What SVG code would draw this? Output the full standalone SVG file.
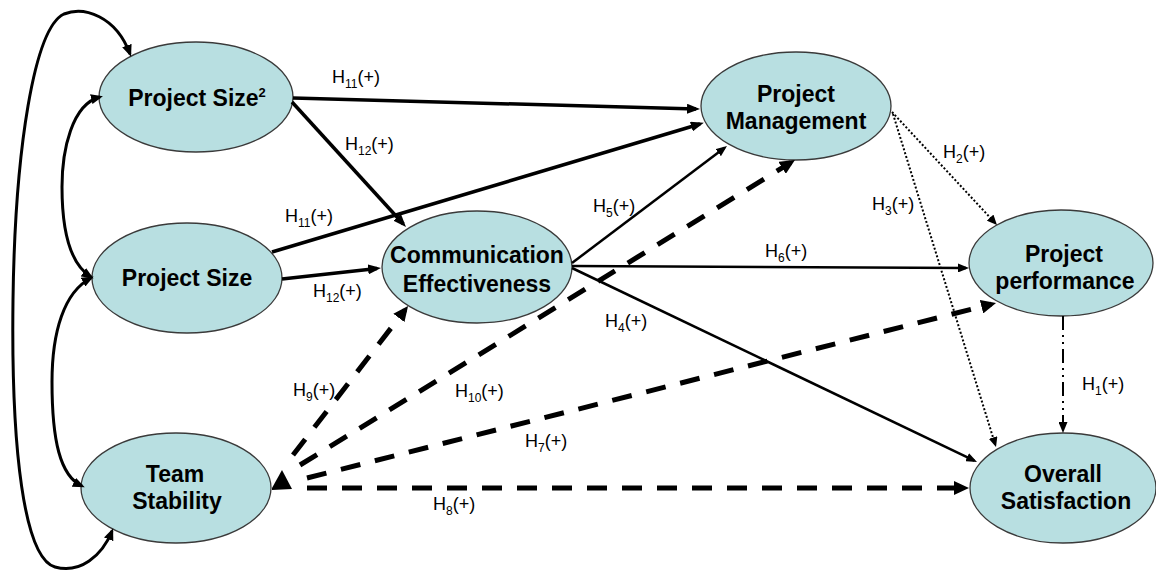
<svg xmlns="http://www.w3.org/2000/svg" width="1156" height="574" viewBox="0 0 1156 574">
<style>
.node ellipse{fill:#b8dfe1;stroke:#3a3a3a;stroke-width:1.3}
.nt{font-family:"Liberation Sans",Arial,sans-serif;font-weight:bold;font-size:23px;fill:#000;text-anchor:middle}
.lb{font-family:"Liberation Sans",Arial,sans-serif;font-size:18px;fill:#000}
.sub{font-size:12px}
.c{fill:none;stroke:#000}
.thick{stroke-width:3.5;marker-end:url(#aMed)}
.thin{stroke-width:2.5;marker-end:url(#aSm)}
.dash{stroke-width:5;stroke-dasharray:20 15;marker-end:url(#aBig)}
.dot{stroke-width:2;stroke-dasharray:2 2;marker-end:url(#aDot)}
.curve{stroke-width:3;marker-start:url(#aCurve);marker-end:url(#aCurve)}
</style>
<defs>
<marker id="aBig" markerUnits="userSpaceOnUse" markerWidth="15" markerHeight="14" refX="10" refY="7" orient="auto"><path d="M0,0 L15,7 L0,14 z" fill="#000"/></marker>
<marker id="aMed" markerUnits="userSpaceOnUse" markerWidth="13" markerHeight="10" refX="9" refY="5" orient="auto"><path d="M0,0 L13,5 L0,10 z" fill="#000"/></marker>
<marker id="aSm" markerUnits="userSpaceOnUse" markerWidth="11" markerHeight="9" refX="8" refY="4.5" orient="auto"><path d="M0,0 L11,4.5 L0,9 z" fill="#000"/></marker>
<marker id="aDot" markerUnits="userSpaceOnUse" markerWidth="10" markerHeight="9" refX="8" refY="4.5" orient="auto"><path d="M0,0 L10,4.5 L0,9 z" fill="#000"/></marker>
<marker id="aCurve" markerUnits="userSpaceOnUse" markerWidth="12" markerHeight="10" refX="9" refY="5" orient="auto-start-reverse"><path d="M0,0 L12,5 L0,10 z" fill="#000"/></marker>
</defs>
<rect width="1156" height="574" fill="#fff"/>

<g id="node-project-size-sq" class="node">
<ellipse cx="196" cy="97" rx="97" ry="55"/>
<text class="nt" x="197" y="106">Project Size<tspan font-size="13" dy="-9">2</tspan></text>
</g>
<g id="node-project-size" class="node">
<ellipse cx="187" cy="278" rx="95" ry="55"/>
<text class="nt" x="187" y="286">Project Size</text>
</g>
<g id="node-team-stability" class="node">
<ellipse cx="176" cy="488" rx="95" ry="55"/>
<text class="nt" x="175" y="482">Team</text>
<text class="nt" x="177" y="509">Stability</text>
</g>
<g id="node-communication" class="node">
<ellipse cx="477" cy="267" rx="95" ry="56"/>
<text class="nt" x="477" y="263">Communication</text>
<text class="nt" x="477" y="292">Effectiveness</text>
</g>
<g id="node-project-management" class="node">
<ellipse cx="796" cy="106" rx="95" ry="54"/>
<text class="nt" x="796" y="102">Project</text>
<text class="nt" x="796" y="129">Management</text>
</g>
<g id="node-project-performance" class="node">
<ellipse cx="1061" cy="263" rx="92" ry="53"/>
<text class="nt" x="1064" y="262">Project</text>
<text class="nt" x="1065" y="289">performance</text>
</g>
<g id="node-overall-satisfaction" class="node">
<ellipse cx="1063" cy="488" rx="93" ry="55"/>
<text class="nt" x="1063" y="482">Overall</text>
<text class="nt" x="1066" y="509">Satisfaction</text>
</g>

<g id="connectors">
<path class="c curve" d="M130,54 C116,16 84,6 64,14 C34,28 15,150 13,300 C11,450 24,558 55,567 C80,574 102,556 112,531"/>
<path class="c curve" d="M100,97 C72,104 62,150 62,187 C62,232 70,264 91,277"/>
<path class="c curve" d="M91,278 C64,292 52,332 52,382 C52,440 60,476 82,486"/>

<path class="c thick" d="M293,98 L696,109"/>
<path class="c thick" d="M292,102 L403.3,224"/>
<path class="c thick" d="M272,252 L700,124"/>
<path class="c thick" d="M282,279 L377,268.4"/>
<path class="c thin" d="M572,263 L724.6,147.8"/>
<path class="c thin" d="M572,266 L966,268"/>
<path class="c thin" d="M572,268 L974.3,460.7"/>
<path class="c dot" d="M892,112 L995.6,223.5"/>
<path class="c dot" d="M893,114 L995.4,445.1"/>
<path class="c" style="stroke-width:2;stroke-dasharray:14 5 2 5 2 5;marker-end:url(#aSm)" d="M1063,316 L1063,430"/>
<path class="c dash" d="M293,455 L405,310"/>
<path class="c dash" d="M300,465 L790.7,162.6"/>
<path class="c dash" d="M307,478 L991.2,304.2"/>
<path class="c dash" d="M307,488 L964,488"/>
<polygon points="272,488 282,470 292,489 272,490" fill="#000"/>
</g>

<g id="labels">
<text class="lb" x="332" y="83">H<tspan class="sub" dy="5">11</tspan><tspan dy="-5">(+)</tspan></text>
<text class="lb" x="345" y="150">H<tspan class="sub" dy="5">12</tspan><tspan dy="-5">(+)</tspan></text>
<text class="lb" x="285" y="222">H<tspan class="sub" dy="5">11</tspan><tspan dy="-5">(+)</tspan></text>
<text class="lb" x="313" y="297">H<tspan class="sub" dy="5">12</tspan><tspan dy="-5">(+)</tspan></text>
<text class="lb" x="593" y="212">H<tspan class="sub" dy="5">5</tspan><tspan dy="-5">(+)</tspan></text>
<text class="lb" x="765" y="257">H<tspan class="sub" dy="5">6</tspan><tspan dy="-5">(+)</tspan></text>
<text class="lb" x="605" y="327">H<tspan class="sub" dy="5">4</tspan><tspan dy="-5">(+)</tspan></text>
<text class="lb" x="943" y="158">H<tspan class="sub" dy="5">2</tspan><tspan dy="-5">(+)</tspan></text>
<text class="lb" x="872" y="210">H<tspan class="sub" dy="5">3</tspan><tspan dy="-5">(+)</tspan></text>
<text class="lb" x="1082" y="390">H<tspan class="sub" dy="5">1</tspan><tspan dy="-5">(+)</tspan></text>
<text class="lb" x="293" y="396">H<tspan class="sub" dy="5">9</tspan><tspan dy="-5">(+)</tspan></text>
<text class="lb" x="455" y="397">H<tspan class="sub" dy="5">10</tspan><tspan dy="-5">(+)</tspan></text>
<text class="lb" x="525" y="447">H<tspan class="sub" dy="5">7</tspan><tspan dy="-5">(+)</tspan></text>
<text class="lb" x="433" y="510">H<tspan class="sub" dy="5">8</tspan><tspan dy="-5">(+)</tspan></text>
</g>
</svg>
